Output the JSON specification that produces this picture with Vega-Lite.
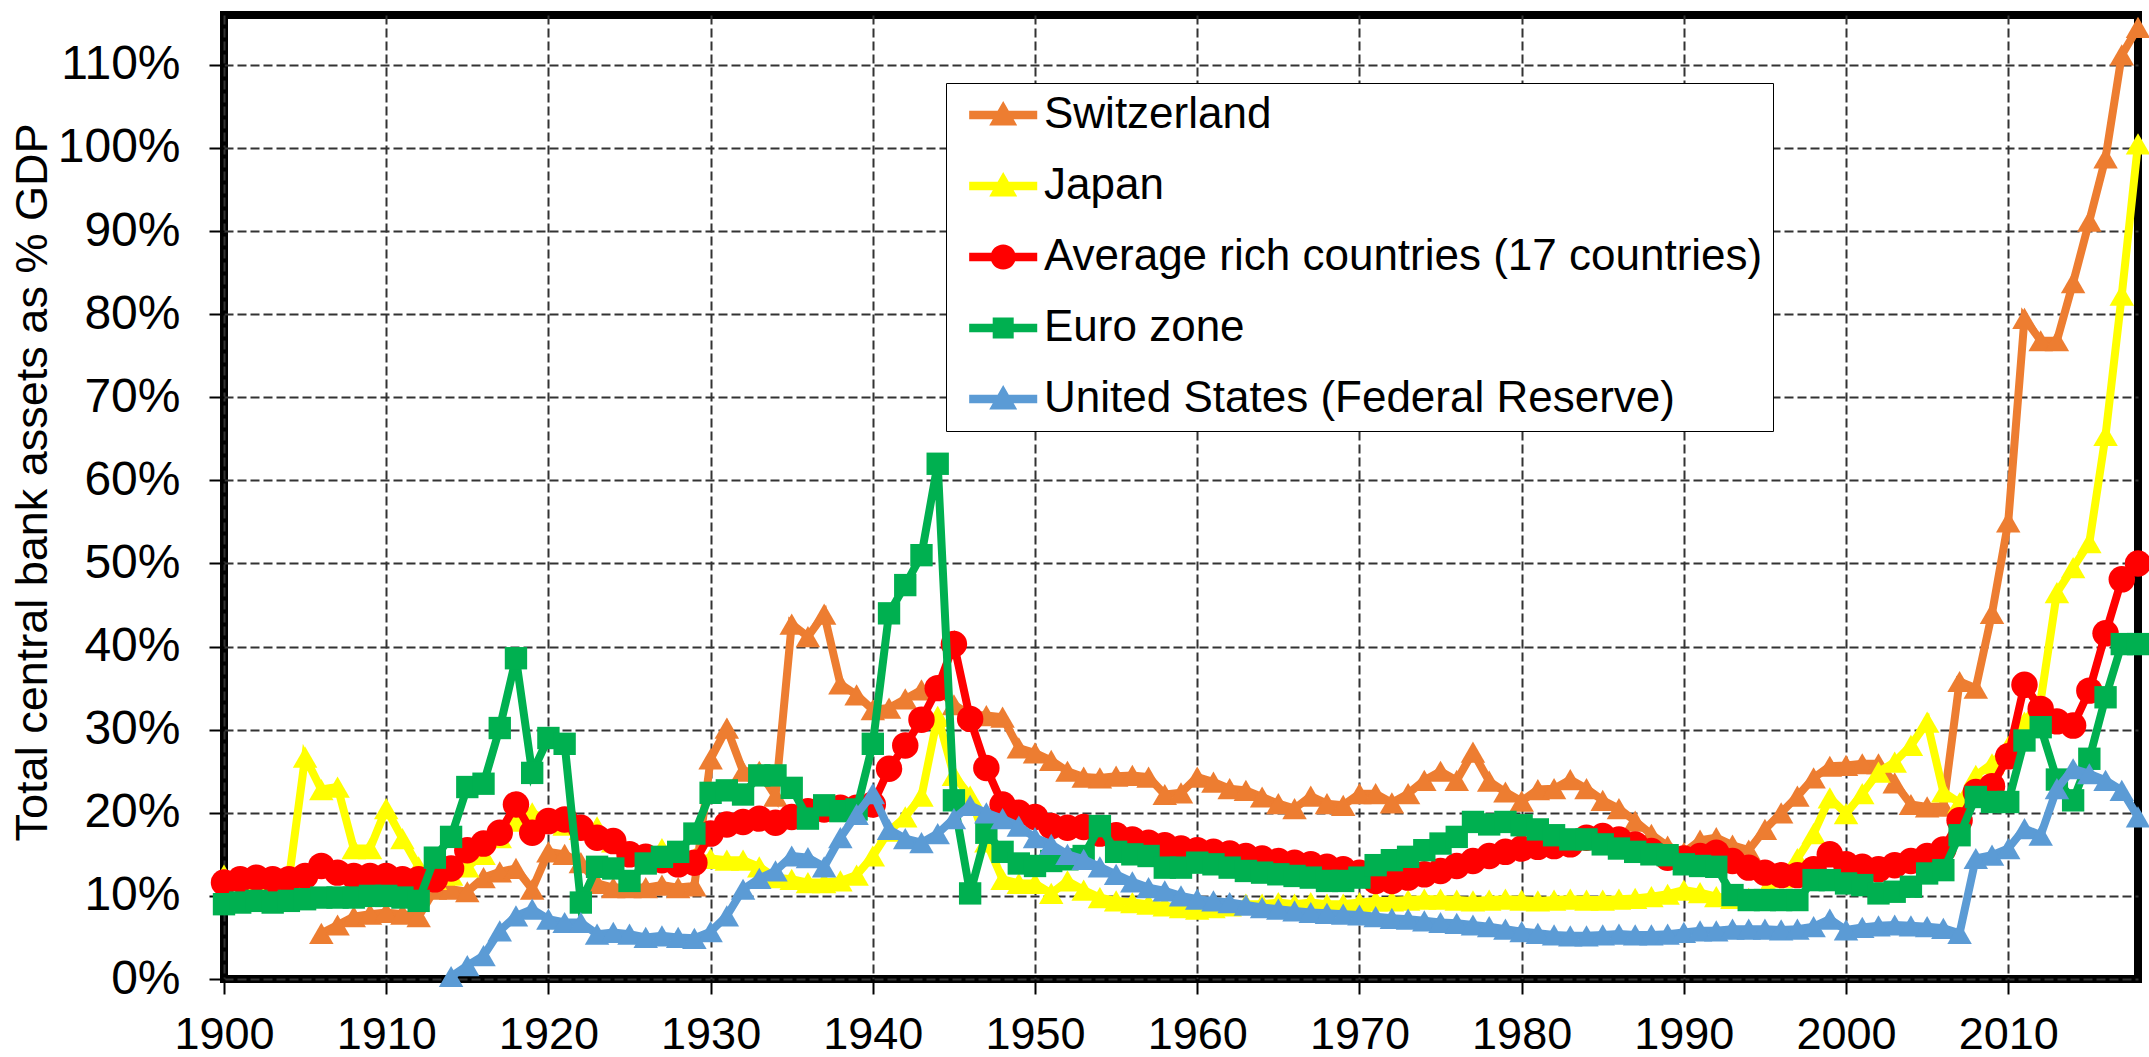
{
"$schema":"https://vega.github.io/schema/vega-lite/v6.json",
"width":1914,"height":964,
"autosize":{"type":"none"},
"padding":{"left":224,"top":15,"right":11,"bottom":78},
"background":"white",
"config":{
 "font":"Liberation Sans",
 "view":{"stroke":"black","strokeWidth":8},
 "axis":{"grid":true,"gridColor":"#333333","gridDash":[9,4],"gridWidth":2,"domain":false,"ticks":true,"tickColor":"black","tickWidth":2,"tickSize":15,"labelColor":"black","labelFont":"Liberation Sans","titleFont":"Liberation Sans","titleColor":"black","titleFontWeight":"normal"}
},
"data":{"values":[
{"s":"CH","x":1906,"v":5.5},{"s":"CH","x":1907,"v":6.5},{"s":"CH","x":1908,"v":7.5},{"s":"CH","x":1909,"v":7.8},{"s":"CH","x":1910,"v":8},{"s":"CH","x":1911,"v":7.8},{"s":"CH","x":1912,"v":7.5},{"s":"CH","x":1913,"v":10.8},{"s":"CH","x":1914,"v":10.8},{"s":"CH","x":1915,"v":10.5},{"s":"CH","x":1916,"v":12.2},{"s":"CH","x":1917,"v":12.9},{"s":"CH","x":1918,"v":13.3},{"s":"CH","x":1919,"v":10.8},{"s":"CH","x":1920,"v":15.3},{"s":"CH","x":1921,"v":15},{"s":"CH","x":1922,"v":14},{"s":"CH","x":1923,"v":11.5},{"s":"CH","x":1924,"v":11},{"s":"CH","x":1925,"v":11},{"s":"CH","x":1926,"v":11},{"s":"CH","x":1927,"v":11.3},{"s":"CH","x":1928,"v":11},{"s":"CH","x":1929,"v":11.2},
{"s":"CH","x":1930,"v":26.5},{"s":"CH","x":1931,"v":30.2},{"s":"CH","x":1932,"v":25},{"s":"CH","x":1933,"v":25},{"s":"CH","x":1934,"v":22},{"s":"CH","x":1935,"v":42.7},{"s":"CH","x":1936,"v":41.2},{"s":"CH","x":1937,"v":43.9},{"s":"CH","x":1938,"v":35.5},{"s":"CH","x":1939,"v":34.2},{"s":"CH","x":1940,"v":32.4},{"s":"CH","x":1941,"v":32.6},{"s":"CH","x":1942,"v":33.7},{"s":"CH","x":1943,"v":34.8},{"s":"CH","x":1944,"v":35},{"s":"CH","x":1945,"v":33},{"s":"CH","x":1946,"v":31.8},{"s":"CH","x":1947,"v":31.7},{"s":"CH","x":1948,"v":31.5},{"s":"CH","x":1949,"v":27.8},
{"s":"CH","x":1950,"v":27.2},{"s":"CH","x":1951,"v":26.3},{"s":"CH","x":1952,"v":25},{"s":"CH","x":1953,"v":24.3},{"s":"CH","x":1954,"v":24.2},{"s":"CH","x":1955,"v":24.4},{"s":"CH","x":1956,"v":24.5},{"s":"CH","x":1957,"v":24.3},{"s":"CH","x":1958,"v":22.2},{"s":"CH","x":1959,"v":22.4},{"s":"CH","x":1960,"v":24.3},{"s":"CH","x":1961,"v":23.7},{"s":"CH","x":1962,"v":22.9},{"s":"CH","x":1963,"v":22.7},{"s":"CH","x":1964,"v":21.9},{"s":"CH","x":1965,"v":21.1},{"s":"CH","x":1966,"v":20.5},{"s":"CH","x":1967,"v":22},{"s":"CH","x":1968,"v":21.1},{"s":"CH","x":1969,"v":20.9},
{"s":"CH","x":1970,"v":22.3},{"s":"CH","x":1971,"v":22.3},{"s":"CH","x":1972,"v":21.2},{"s":"CH","x":1973,"v":22.3},{"s":"CH","x":1974,"v":23.9},{"s":"CH","x":1975,"v":25},{"s":"CH","x":1976,"v":23.9},{"s":"CH","x":1977,"v":27.3},{"s":"CH","x":1978,"v":23.8},{"s":"CH","x":1979,"v":22.5},{"s":"CH","x":1980,"v":21.4},{"s":"CH","x":1981,"v":22.8},{"s":"CH","x":1982,"v":22.9},{"s":"CH","x":1983,"v":24},{"s":"CH","x":1984,"v":22.9},{"s":"CH","x":1985,"v":21.5},{"s":"CH","x":1986,"v":20.5},{"s":"CH","x":1987,"v":19},{"s":"CH","x":1988,"v":17.4},{"s":"CH","x":1989,"v":16},
{"s":"CH","x":1990,"v":15.2},{"s":"CH","x":1991,"v":16.7},{"s":"CH","x":1992,"v":17},{"s":"CH","x":1993,"v":16.1},{"s":"CH","x":1994,"v":15.5},{"s":"CH","x":1995,"v":18},{"s":"CH","x":1996,"v":20},{"s":"CH","x":1997,"v":22},{"s":"CH","x":1998,"v":24.2},{"s":"CH","x":1999,"v":25.6},{"s":"CH","x":2000,"v":25.7},{"s":"CH","x":2001,"v":25.9},{"s":"CH","x":2002,"v":25.9},{"s":"CH","x":2003,"v":23.6},{"s":"CH","x":2004,"v":21},{"s":"CH","x":2005,"v":20.7},{"s":"CH","x":2006,"v":20.8},{"s":"CH","x":2007,"v":35.8},{"s":"CH","x":2008,"v":35},{"s":"CH","x":2009,"v":44},{"s":"CH","x":2010,"v":55},{"s":"CH","x":2011,"v":79.5},{"s":"CH","x":2012,"v":76.8},{"s":"CH","x":2013,"v":76.8},{"s":"CH","x":2014,"v":83.8},{"s":"CH","x":2015,"v":91.2},{"s":"CH","x":2016,"v":98.8},{"s":"CH","x":2017,"v":111.2},{"s":"CH","x":2018,"v":114.5},

{"s":"JP","x":1900,"v":12.5},{"s":"JP","x":1901,"v":12},{"s":"JP","x":1902,"v":12},{"s":"JP","x":1903,"v":11.8},{"s":"JP","x":1904,"v":12},{"s":"JP","x":1905,"v":26.7},{"s":"JP","x":1906,"v":22.8},{"s":"JP","x":1907,"v":23.1},{"s":"JP","x":1908,"v":15.7},{"s":"JP","x":1909,"v":15.7},{"s":"JP","x":1910,"v":20.5},{"s":"JP","x":1911,"v":16.9},{"s":"JP","x":1912,"v":13.5},{"s":"JP","x":1913,"v":12},{"s":"JP","x":1914,"v":12.5},{"s":"JP","x":1915,"v":13.5},{"s":"JP","x":1916,"v":15},{"s":"JP","x":1917,"v":17},{"s":"JP","x":1918,"v":19},{"s":"JP","x":1919,"v":20},{"s":"JP","x":1920,"v":19},{"s":"JP","x":1921,"v":18.5},{"s":"JP","x":1922,"v":18},{"s":"JP","x":1923,"v":18.3},{"s":"JP","x":1924,"v":16.5},{"s":"JP","x":1925,"v":15.2},{"s":"JP","x":1926,"v":15},{"s":"JP","x":1927,"v":15.7},{"s":"JP","x":1928,"v":15},{"s":"JP","x":1929,"v":14.5},
{"s":"JP","x":1930,"v":14.5},{"s":"JP","x":1931,"v":14.3},{"s":"JP","x":1932,"v":14.3},{"s":"JP","x":1933,"v":13.5},{"s":"JP","x":1934,"v":12.2},{"s":"JP","x":1935,"v":12},{"s":"JP","x":1936,"v":11.6},{"s":"JP","x":1937,"v":11.6},{"s":"JP","x":1938,"v":11.8},{"s":"JP","x":1939,"v":12.5},{"s":"JP","x":1940,"v":14.8},{"s":"JP","x":1941,"v":17.8},{"s":"JP","x":1942,"v":19.5},{"s":"JP","x":1943,"v":22},{"s":"JP","x":1944,"v":31.6},{"s":"JP","x":1945,"v":24.5},{"s":"JP","x":1946,"v":22},{"s":"JP","x":1947,"v":16.5},{"s":"JP","x":1948,"v":12},{"s":"JP","x":1949,"v":11.5},
{"s":"JP","x":1950,"v":11.5},{"s":"JP","x":1951,"v":10.3},{"s":"JP","x":1952,"v":11.8},{"s":"JP","x":1953,"v":10.7},{"s":"JP","x":1954,"v":9.8},{"s":"JP","x":1955,"v":9.4},{"s":"JP","x":1956,"v":9.2},{"s":"JP","x":1957,"v":9},{"s":"JP","x":1958,"v":8.8},{"s":"JP","x":1959,"v":8.6},{"s":"JP","x":1960,"v":8.4},{"s":"JP","x":1961,"v":8.6},{"s":"JP","x":1962,"v":8.8},{"s":"JP","x":1963,"v":9},{"s":"JP","x":1964,"v":9},{"s":"JP","x":1965,"v":9.2},{"s":"JP","x":1966,"v":9},{"s":"JP","x":1967,"v":9.2},{"s":"JP","x":1968,"v":9},{"s":"JP","x":1969,"v":9},
{"s":"JP","x":1970,"v":9.2},{"s":"JP","x":1971,"v":9.4},{"s":"JP","x":1972,"v":9.4},{"s":"JP","x":1973,"v":9.5},{"s":"JP","x":1974,"v":9.6},{"s":"JP","x":1975,"v":9.6},{"s":"JP","x":1976,"v":9.5},{"s":"JP","x":1977,"v":9.4},{"s":"JP","x":1978,"v":9.5},{"s":"JP","x":1979,"v":9.6},{"s":"JP","x":1980,"v":9.5},{"s":"JP","x":1981,"v":9.4},{"s":"JP","x":1982,"v":9.5},{"s":"JP","x":1983,"v":9.6},{"s":"JP","x":1984,"v":9.5},{"s":"JP","x":1985,"v":9.5},{"s":"JP","x":1986,"v":9.6},{"s":"JP","x":1987,"v":9.7},{"s":"JP","x":1988,"v":9.9},{"s":"JP","x":1989,"v":10.2},
{"s":"JP","x":1990,"v":10.7},{"s":"JP","x":1991,"v":10.4},{"s":"JP","x":1992,"v":9.9},{"s":"JP","x":1993,"v":9.7},{"s":"JP","x":1994,"v":9.7},{"s":"JP","x":1995,"v":10.5},{"s":"JP","x":1996,"v":12.2},{"s":"JP","x":1997,"v":14.5},{"s":"JP","x":1998,"v":17.5},{"s":"JP","x":1999,"v":21.8},{"s":"JP","x":2000,"v":19.9},{"s":"JP","x":2001,"v":22.3},{"s":"JP","x":2002,"v":24.9},{"s":"JP","x":2003,"v":26.1},{"s":"JP","x":2004,"v":28.1},{"s":"JP","x":2005,"v":30.9},{"s":"JP","x":2006,"v":22.5},{"s":"JP","x":2007,"v":21.2},{"s":"JP","x":2008,"v":24.5},{"s":"JP","x":2009,"v":25.9},{"s":"JP","x":2010,"v":28},{"s":"JP","x":2011,"v":30.9},{"s":"JP","x":2012,"v":33.5},{"s":"JP","x":2013,"v":46.5},{"s":"JP","x":2014,"v":49.5},{"s":"JP","x":2015,"v":52.5},{"s":"JP","x":2016,"v":65.4},{"s":"JP","x":2017,"v":82.3},{"s":"JP","x":2018,"v":100.5},

{"s":"AV","x":1900,"v":11.6},{"s":"AV","x":1901,"v":12},{"s":"AV","x":1902,"v":12.2},{"s":"AV","x":1903,"v":12},{"s":"AV","x":1904,"v":12},{"s":"AV","x":1905,"v":12.4},{"s":"AV","x":1906,"v":13.6},{"s":"AV","x":1907,"v":12.8},{"s":"AV","x":1908,"v":12.4},{"s":"AV","x":1909,"v":12.4},{"s":"AV","x":1910,"v":12.4},{"s":"AV","x":1911,"v":12},{"s":"AV","x":1912,"v":12},{"s":"AV","x":1913,"v":12},{"s":"AV","x":1914,"v":13.3},{"s":"AV","x":1915,"v":15.5},{"s":"AV","x":1916,"v":16.3},{"s":"AV","x":1917,"v":17.6},{"s":"AV","x":1918,"v":21},{"s":"AV","x":1919,"v":17.6},{"s":"AV","x":1920,"v":19},{"s":"AV","x":1921,"v":19.2},{"s":"AV","x":1922,"v":18.2},{"s":"AV","x":1923,"v":17},{"s":"AV","x":1924,"v":16.6},{"s":"AV","x":1925,"v":15},{"s":"AV","x":1926,"v":14.7},{"s":"AV","x":1927,"v":14.3},{"s":"AV","x":1928,"v":13.8},{"s":"AV","x":1929,"v":14},
{"s":"AV","x":1930,"v":17.5},{"s":"AV","x":1931,"v":18.6},{"s":"AV","x":1932,"v":18.9},{"s":"AV","x":1933,"v":19.3},{"s":"AV","x":1934,"v":18.8},{"s":"AV","x":1935,"v":19.5},{"s":"AV","x":1936,"v":20.2},{"s":"AV","x":1937,"v":20.4},{"s":"AV","x":1938,"v":20.6},{"s":"AV","x":1939,"v":20.6},{"s":"AV","x":1940,"v":21},{"s":"AV","x":1941,"v":25.3},{"s":"AV","x":1942,"v":28.1},{"s":"AV","x":1943,"v":31.2},{"s":"AV","x":1944,"v":35},{"s":"AV","x":1945,"v":40.3},{"s":"AV","x":1946,"v":31.3},{"s":"AV","x":1947,"v":25.4},{"s":"AV","x":1948,"v":21},{"s":"AV","x":1949,"v":20},
{"s":"AV","x":1950,"v":19.5},{"s":"AV","x":1951,"v":18.4},{"s":"AV","x":1952,"v":18.2},{"s":"AV","x":1953,"v":18.3},{"s":"AV","x":1954,"v":17.5},{"s":"AV","x":1955,"v":17.3},{"s":"AV","x":1956,"v":16.8},{"s":"AV","x":1957,"v":16.4},{"s":"AV","x":1958,"v":16.1},{"s":"AV","x":1959,"v":15.7},{"s":"AV","x":1960,"v":15.5},{"s":"AV","x":1961,"v":15.3},{"s":"AV","x":1962,"v":15.1},{"s":"AV","x":1963,"v":14.8},{"s":"AV","x":1964,"v":14.5},{"s":"AV","x":1965,"v":14.2},{"s":"AV","x":1966,"v":14},{"s":"AV","x":1967,"v":13.8},{"s":"AV","x":1968,"v":13.5},{"s":"AV","x":1969,"v":13.2},
{"s":"AV","x":1970,"v":12.8},{"s":"AV","x":1971,"v":11.8},{"s":"AV","x":1972,"v":11.8},{"s":"AV","x":1973,"v":12.2},{"s":"AV","x":1974,"v":12.6},{"s":"AV","x":1975,"v":13},{"s":"AV","x":1976,"v":13.6},{"s":"AV","x":1977,"v":14.2},{"s":"AV","x":1978,"v":14.8},{"s":"AV","x":1979,"v":15.3},{"s":"AV","x":1980,"v":15.7},{"s":"AV","x":1981,"v":15.9},{"s":"AV","x":1982,"v":16},{"s":"AV","x":1983,"v":16.2},{"s":"AV","x":1984,"v":17},{"s":"AV","x":1985,"v":17.2},{"s":"AV","x":1986,"v":16.8},{"s":"AV","x":1987,"v":16.2},{"s":"AV","x":1988,"v":15.4},{"s":"AV","x":1989,"v":14.6},
{"s":"AV","x":1990,"v":14.5},{"s":"AV","x":1991,"v":14.8},{"s":"AV","x":1992,"v":15.2},{"s":"AV","x":1993,"v":14.2},{"s":"AV","x":1994,"v":13.4},{"s":"AV","x":1995,"v":12.8},{"s":"AV","x":1996,"v":12.5},{"s":"AV","x":1997,"v":12.5},{"s":"AV","x":1998,"v":13.2},{"s":"AV","x":1999,"v":15},{"s":"AV","x":2000,"v":13.8},{"s":"AV","x":2001,"v":13.5},{"s":"AV","x":2002,"v":13.2},{"s":"AV","x":2003,"v":13.7},{"s":"AV","x":2004,"v":14.2},{"s":"AV","x":2005,"v":14.8},{"s":"AV","x":2006,"v":15.6},{"s":"AV","x":2007,"v":19.1},{"s":"AV","x":2008,"v":22.5},{"s":"AV","x":2009,"v":23.2},{"s":"AV","x":2010,"v":26.8},{"s":"AV","x":2011,"v":35.4},{"s":"AV","x":2012,"v":32.5},{"s":"AV","x":2013,"v":31},{"s":"AV","x":2014,"v":30.5},{"s":"AV","x":2015,"v":34.7},{"s":"AV","x":2016,"v":41.6},{"s":"AV","x":2017,"v":48.1},{"s":"AV","x":2018,"v":50},

{"s":"EZ","x":1900,"v":9},{"s":"EZ","x":1901,"v":9.2},{"s":"EZ","x":1902,"v":9.4},{"s":"EZ","x":1903,"v":9.2},{"s":"EZ","x":1904,"v":9.4},{"s":"EZ","x":1905,"v":9.6},{"s":"EZ","x":1906,"v":9.8},{"s":"EZ","x":1907,"v":9.8},{"s":"EZ","x":1908,"v":9.8},{"s":"EZ","x":1909,"v":10},{"s":"EZ","x":1910,"v":10},{"s":"EZ","x":1911,"v":9.8},{"s":"EZ","x":1912,"v":9.4},{"s":"EZ","x":1913,"v":14.6},{"s":"EZ","x":1914,"v":17.1},{"s":"EZ","x":1915,"v":23.1},{"s":"EZ","x":1916,"v":23.5},{"s":"EZ","x":1917,"v":30.2},{"s":"EZ","x":1918,"v":38.6},{"s":"EZ","x":1919,"v":24.8},{"s":"EZ","x":1920,"v":29},{"s":"EZ","x":1921,"v":28.3},{"s":"EZ","x":1922,"v":9.2},{"s":"EZ","x":1923,"v":13.5},{"s":"EZ","x":1924,"v":13.3},{"s":"EZ","x":1925,"v":11.8},{"s":"EZ","x":1926,"v":13.9},{"s":"EZ","x":1927,"v":14.7},{"s":"EZ","x":1928,"v":15.3},{"s":"EZ","x":1929,"v":17.5},
{"s":"EZ","x":1930,"v":22.4},{"s":"EZ","x":1931,"v":22.7},{"s":"EZ","x":1932,"v":22.2},{"s":"EZ","x":1933,"v":24.5},{"s":"EZ","x":1934,"v":24.5},{"s":"EZ","x":1935,"v":23},{"s":"EZ","x":1936,"v":19.3},{"s":"EZ","x":1937,"v":20.9},{"s":"EZ","x":1938,"v":20.2},{"s":"EZ","x":1939,"v":20.4},{"s":"EZ","x":1940,"v":28.3},{"s":"EZ","x":1941,"v":44},{"s":"EZ","x":1942,"v":47.4},{"s":"EZ","x":1943,"v":51},{"s":"EZ","x":1944,"v":62},{"s":"EZ","x":1945,"v":21.5},{"s":"EZ","x":1946,"v":10.3},{"s":"EZ","x":1947,"v":17.6},{"s":"EZ","x":1948,"v":15.3},{"s":"EZ","x":1949,"v":13.9},
{"s":"EZ","x":1950,"v":13.6},{"s":"EZ","x":1951,"v":14.2},{"s":"EZ","x":1952,"v":14.4},{"s":"EZ","x":1953,"v":14.8},{"s":"EZ","x":1954,"v":18.4},{"s":"EZ","x":1955,"v":15.3},{"s":"EZ","x":1956,"v":15},{"s":"EZ","x":1957,"v":14.8},{"s":"EZ","x":1958,"v":13.4},{"s":"EZ","x":1959,"v":13.4},{"s":"EZ","x":1960,"v":14},{"s":"EZ","x":1961,"v":13.8},{"s":"EZ","x":1962,"v":13.4},{"s":"EZ","x":1963,"v":13},{"s":"EZ","x":1964,"v":12.8},{"s":"EZ","x":1965,"v":12.6},{"s":"EZ","x":1966,"v":12.4},{"s":"EZ","x":1967,"v":12.2},{"s":"EZ","x":1968,"v":11.8},{"s":"EZ","x":1969,"v":11.8},
{"s":"EZ","x":1970,"v":12.2},{"s":"EZ","x":1971,"v":13.7},{"s":"EZ","x":1972,"v":14.3},{"s":"EZ","x":1973,"v":14.7},{"s":"EZ","x":1974,"v":15.5},{"s":"EZ","x":1975,"v":16.3},{"s":"EZ","x":1976,"v":17.1},{"s":"EZ","x":1977,"v":18.9},{"s":"EZ","x":1978,"v":18.6},{"s":"EZ","x":1979,"v":18.9},{"s":"EZ","x":1980,"v":18.5},{"s":"EZ","x":1981,"v":18},{"s":"EZ","x":1982,"v":17.3},{"s":"EZ","x":1983,"v":16.8},{"s":"EZ","x":1984,"v":16.8},{"s":"EZ","x":1985,"v":16.2},{"s":"EZ","x":1986,"v":15.7},{"s":"EZ","x":1987,"v":15.3},{"s":"EZ","x":1988,"v":15},{"s":"EZ","x":1989,"v":14.9},
{"s":"EZ","x":1990,"v":13.8},{"s":"EZ","x":1991,"v":13.6},{"s":"EZ","x":1992,"v":13.5},{"s":"EZ","x":1993,"v":10.1},{"s":"EZ","x":1994,"v":9.5},{"s":"EZ","x":1995,"v":9.5},{"s":"EZ","x":1996,"v":9.5},{"s":"EZ","x":1997,"v":9.5},{"s":"EZ","x":1998,"v":11.9},{"s":"EZ","x":1999,"v":11.9},{"s":"EZ","x":2000,"v":11.5},{"s":"EZ","x":2001,"v":11.3},{"s":"EZ","x":2002,"v":10.3},{"s":"EZ","x":2003,"v":10.5},{"s":"EZ","x":2004,"v":11.1},{"s":"EZ","x":2005,"v":12.7},{"s":"EZ","x":2006,"v":13.1},{"s":"EZ","x":2007,"v":17.3},{"s":"EZ","x":2008,"v":21.9},{"s":"EZ","x":2009,"v":21.3},{"s":"EZ","x":2010,"v":21.3},{"s":"EZ","x":2011,"v":28.7},{"s":"EZ","x":2012,"v":30.3},{"s":"EZ","x":2013,"v":24},{"s":"EZ","x":2014,"v":21.5},{"s":"EZ","x":2015,"v":26.5},{"s":"EZ","x":2016,"v":33.9},{"s":"EZ","x":2017,"v":40.3},{"s":"EZ","x":2018,"v":40.3},

{"s":"US","x":1914,"v":0.3},{"s":"US","x":1915,"v":1.6},{"s":"US","x":1916,"v":2.8},{"s":"US","x":1917,"v":5.8},{"s":"US","x":1918,"v":7.6},{"s":"US","x":1919,"v":8.4},{"s":"US","x":1920,"v":7.2},{"s":"US","x":1921,"v":6.8},{"s":"US","x":1922,"v":6.8},{"s":"US","x":1923,"v":5.4},{"s":"US","x":1924,"v":5.6},{"s":"US","x":1925,"v":5.4},{"s":"US","x":1926,"v":5},{"s":"US","x":1927,"v":5.2},{"s":"US","x":1928,"v":5},{"s":"US","x":1929,"v":4.9},
{"s":"US","x":1930,"v":5.7},{"s":"US","x":1931,"v":7.6},{"s":"US","x":1932,"v":10.8},{"s":"US","x":1933,"v":12.1},{"s":"US","x":1934,"v":13},{"s":"US","x":1935,"v":14.8},{"s":"US","x":1936,"v":14.6},{"s":"US","x":1937,"v":13.5},{"s":"US","x":1938,"v":17},{"s":"US","x":1939,"v":19.8},{"s":"US","x":1940,"v":22.3},{"s":"US","x":1941,"v":18},{"s":"US","x":1942,"v":16.9},{"s":"US","x":1943,"v":16.4},{"s":"US","x":1944,"v":17.5},{"s":"US","x":1945,"v":19.3},{"s":"US","x":1946,"v":20.9},{"s":"US","x":1947,"v":20},{"s":"US","x":1948,"v":19.3},{"s":"US","x":1949,"v":18.4},
{"s":"US","x":1950,"v":17},{"s":"US","x":1951,"v":16.2},{"s":"US","x":1952,"v":15},{"s":"US","x":1953,"v":14.4},{"s":"US","x":1954,"v":13.5},{"s":"US","x":1955,"v":12.6},{"s":"US","x":1956,"v":11.7},{"s":"US","x":1957,"v":11},{"s":"US","x":1958,"v":10.6},{"s":"US","x":1959,"v":10},{"s":"US","x":1960,"v":9.6},{"s":"US","x":1961,"v":9.4},{"s":"US","x":1962,"v":9.2},{"s":"US","x":1963,"v":8.9},{"s":"US","x":1964,"v":8.6},{"s":"US","x":1965,"v":8.4},{"s":"US","x":1966,"v":8.2},{"s":"US","x":1967,"v":8},{"s":"US","x":1968,"v":7.9},{"s":"US","x":1969,"v":7.8},
{"s":"US","x":1970,"v":7.7},{"s":"US","x":1971,"v":7.5},{"s":"US","x":1972,"v":7.3},{"s":"US","x":1973,"v":7.2},{"s":"US","x":1974,"v":7},{"s":"US","x":1975,"v":6.8},{"s":"US","x":1976,"v":6.7},{"s":"US","x":1977,"v":6.5},{"s":"US","x":1978,"v":6.3},{"s":"US","x":1979,"v":6},{"s":"US","x":1980,"v":5.7},{"s":"US","x":1981,"v":5.5},{"s":"US","x":1982,"v":5.3},{"s":"US","x":1983,"v":5.2},{"s":"US","x":1984,"v":5.2},{"s":"US","x":1985,"v":5.3},{"s":"US","x":1986,"v":5.4},{"s":"US","x":1987,"v":5.3},{"s":"US","x":1988,"v":5.3},{"s":"US","x":1989,"v":5.4},
{"s":"US","x":1990,"v":5.6},{"s":"US","x":1991,"v":5.8},{"s":"US","x":1992,"v":5.8},{"s":"US","x":1993,"v":6},{"s":"US","x":1994,"v":6},{"s":"US","x":1995,"v":6},{"s":"US","x":1996,"v":5.9},{"s":"US","x":1997,"v":6},{"s":"US","x":1998,"v":6.3},{"s":"US","x":1999,"v":7.2},{"s":"US","x":2000,"v":5.9},{"s":"US","x":2001,"v":6.2},{"s":"US","x":2002,"v":6.4},{"s":"US","x":2003,"v":6.5},{"s":"US","x":2004,"v":6.4},{"s":"US","x":2005,"v":6.3},{"s":"US","x":2006,"v":6.1},{"s":"US","x":2007,"v":5.5},{"s":"US","x":2008,"v":14.5},{"s":"US","x":2009,"v":14.9},{"s":"US","x":2010,"v":15.7},{"s":"US","x":2011,"v":18.1},{"s":"US","x":2012,"v":17.3},{"s":"US","x":2013,"v":22.9},{"s":"US","x":2014,"v":25.3},{"s":"US","x":2015,"v":24.7},{"s":"US","x":2016,"v":23.9},{"s":"US","x":2017,"v":22.7},{"s":"US","x":2018,"v":19.5}
]},
"encoding":{
 "x":{"field":"x","type":"quantitative","scale":{"domain":[1900,2018],"nice":false,"zero":false},
  "axis":{"title":null,"values":[1900,1910,1920,1930,1940,1950,1960,1970,1980,1990,2000,2010],"format":"d","labelFontSize":45,"labelPadding":18,"labelFlush":false,"labelOverlap":false}},
 "y":{"field":"v","type":"quantitative","scale":{"domain":[0,116],"nice":false},
  "axis":{"title":"Total central bank assets as % GDP","titleFontSize":45,"titlePadding":2,"titleY":467,"values":[0,10,20,30,40,50,60,70,80,90,100,110],"labelExpr":"datum.value + '%'","labelFontSize":48,"labelPadding":29,"labelOverlap":false}}
},
"layer":[
 {"transform":[{"filter":"datum.s == 'CH'"}],"mark":{"type":"line","color":"#ED7D31","strokeWidth":8,"point":{"shape":"triangle-up","size":600,"filled":true,"opacity":1,"color":"#ED7D31"}}},
 {"transform":[{"filter":"datum.s == 'JP'"}],"mark":{"type":"line","color":"#FFFF00","strokeWidth":8,"point":{"shape":"triangle-up","size":600,"filled":true,"opacity":1,"color":"#FFFF00"}}},
 {"transform":[{"filter":"datum.s == 'AV'"}],"mark":{"type":"line","color":"#FF0000","strokeWidth":8,"point":{"shape":"circle","size":700,"filled":true,"opacity":1,"color":"#FF0000"}}},
 {"transform":[{"filter":"datum.s == 'EZ'"}],"mark":{"type":"line","color":"#00B050","strokeWidth":8,"point":{"shape":"square","size":500,"filled":true,"opacity":1,"color":"#00B050"}}},
 {"transform":[{"filter":"datum.s == 'US'"}],"mark":{"type":"line","color":"#5B9BD5","strokeWidth":8,"point":{"shape":"triangle-up","size":600,"filled":true,"opacity":1,"color":"#5B9BD5"}}},
 {"transform":[{"filter":"false"}],"mark":{"type":"point","filled":true,"opacity":1},
  "encoding":{
   "color":{"field":"s","type":"nominal","scale":{"domain":["CH","JP","AV","EZ","US"],"range":["#ED7D31","#FFFF00","#FF0000","#00B050","#5B9BD5"]},
    "legend":{"orient":"none","legendX":722,"legendY":68,"title":null,"padding":10,"fillColor":"white","strokeColor":"black","labelFontSize":44,"labelFont":"Liberation Sans","labelColor":"black","labelLimit":0,"symbolSize":784,"symbolStrokeWidth":0,"labelOffset":44,"rowPadding":27,"symbolOpacity":1,
     "labelExpr":"datum.label == 'CH' ? 'Switzerland' : datum.label == 'JP' ? 'Japan' : datum.label == 'AV' ? 'Average rich countries (17 countries)' : datum.label == 'EZ' ? 'Euro zone' : 'United States (Federal Reserve)'"}},
   "shape":{"field":"s","type":"nominal","scale":{"domain":["CH","JP","AV","EZ","US"],"range":[
     "M-0.63,-0.3H4.23V0.3H-0.63Z M1.8,-1L2.8,0.75H0.8Z",
     "M-0.63,-0.3H4.23V0.3H-0.63Z M1.8,-1L2.8,0.75H0.8Z",
     "M-0.63,-0.3H4.23V0.3H-0.63Z M0.9,0A0.9,0.9 0 1,1 2.7,0A0.9,0.9 0 1,1 0.9,0Z",
     "M-0.63,-0.3H4.23V0.3H-0.63Z M1.05,-0.75H2.55V0.75H1.05Z",
     "M-0.63,-0.3H4.23V0.3H-0.63Z M1.8,-1L2.8,0.75H0.8Z"]},
    "legend":{"orient":"none","legendX":722,"legendY":68,"title":null,"padding":10,"fillColor":"white","strokeColor":"black","labelFontSize":44,"labelFont":"Liberation Sans","labelColor":"black","labelLimit":0,"symbolSize":784,"symbolStrokeWidth":0,"labelOffset":44,"rowPadding":27,"symbolOpacity":1,
     "labelExpr":"datum.label == 'CH' ? 'Switzerland' : datum.label == 'JP' ? 'Japan' : datum.label == 'AV' ? 'Average rich countries (17 countries)' : datum.label == 'EZ' ? 'Euro zone' : 'United States (Federal Reserve)'"}}
  }}
]
}
